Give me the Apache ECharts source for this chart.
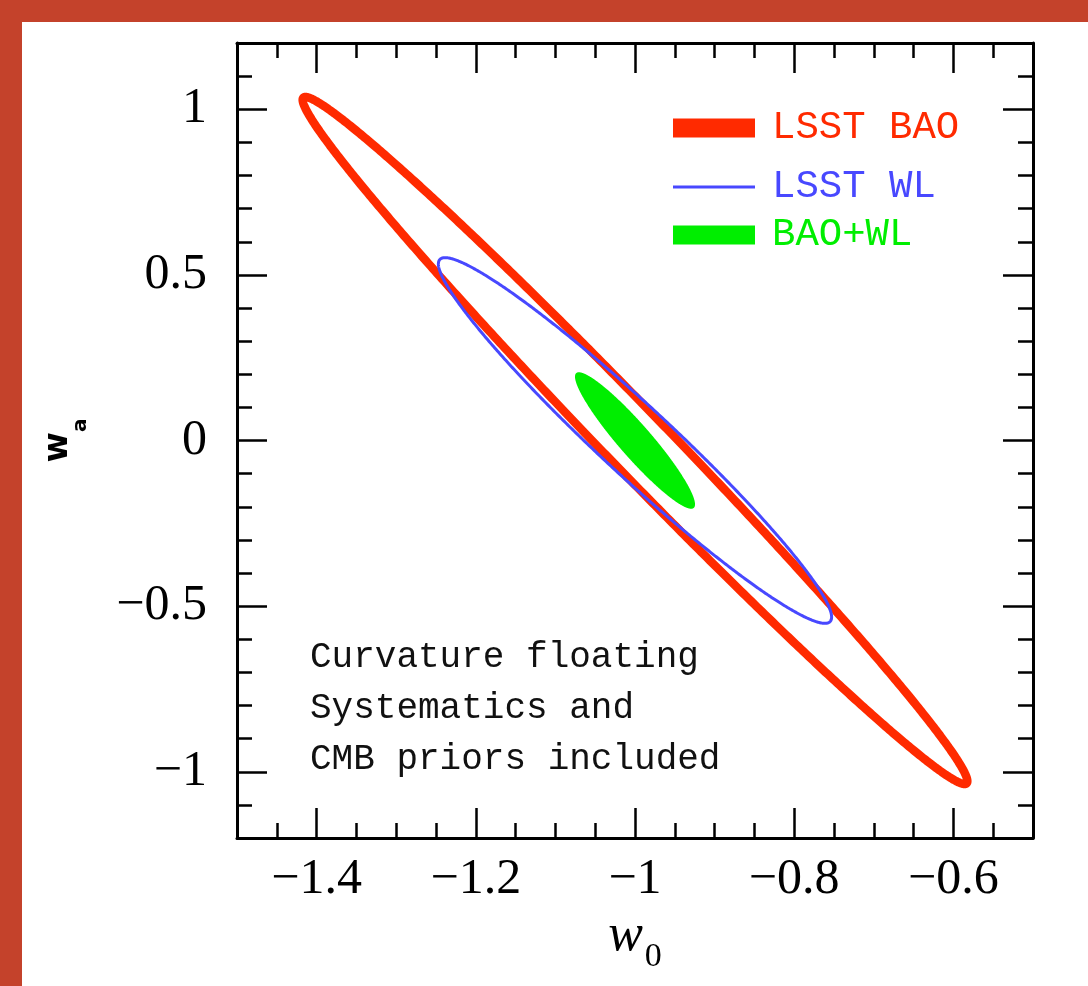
<!DOCTYPE html>
<html>
<head>
<meta charset="utf-8">
<script src="https://cdn.jsdelivr.net/npm/echarts@6/dist/echarts.min.js"></script>
<style>
  html, body { margin: 0; padding: 0; background: #c4422b; }
  #panel { position: absolute; left: 22px; top: 22px; width: 1066px; height: 964px; background: #fff; }
  #chart { position: absolute; left: 0; top: 0; width: 1088px; height: 986px; }
</style>
</head>
<body>
<div id="panel"></div>
<div id="chart"></div>
<script>
    // contours: centre, 1-sigma half extents and correlation
    let contourNames = ['LSST BAO', 'LSST WL', 'BAO+WL'];
    let centerW0 = [-1.0, -1.0, -1.0];
    let centerWa = [0.0, 0.0, 0.0];
    let sigmaW0 = [0.4175, 0.247, 0.0754];
    let sigmaWa = [1.037, 0.552, 0.206];
    let corrW0Wa = [-0.9916, -0.9655, -0.935];

    // axis ticks
    let w0Ticks = [-1.4, -1.2, -1, -0.8, -0.6];
    let waTicks = [-1, -0.5, 0, 0.5, 1];
    let noteLines = ['Curvature floating', 'Systematics and', 'CMB priors included'];

    let colors = ['#ff2a00', '#4848ff', '#00ee00'];
    let lineW = [8.5, 3, 0];
    let filled = [false, false, true];
    let legendY = [128, 187, 235];
    let legendH = [19, 3, 19];

    let black = '#000';
    let fmt = function (v) {
        return (v < 0 ? '\u2212' : '') + Math.abs(v);
    };

    function ellipse(params, api) {
        let cx = api.value(0), cy = api.value(1);
        let sx = api.value(2), sy = api.value(3), r = api.value(4);
        let q = Math.sqrt(1 - r * r);
        let pts = [];
        for (let k = 0; k < 720; k++) {
            let t = k * Math.PI / 360;
            pts.push(api.coord([cx + sx * Math.cos(t), cy + sy * (r * Math.cos(t) + q * Math.sin(t))]));
        }
        let i = params.seriesIndex;
        return {
            type: 'polygon',
            shape: {points: pts},
            style: filled[i] ? {fill: colors[i], stroke: null} :
                {fill: null, stroke: colors[i], lineWidth: lineW[i], lineJoin: 'round'}
        };
    }

    function xAxisOf(pos, major) {
        let a = {
            type: 'value', min: -1.5, max: -0.5, position: pos,
            splitLine: {show: false},
            axisLine: {show: major, onZero: false, lineStyle: {color: black, width: 3}},
            axisTick: {inside: true, length: major ? 30 : 15, lineStyle: {color: black, width: 2.5}},
            axisLabel: {show: false}
        };
        if (major) {
            a.axisTick.customValues = w0Ticks;
        } else {
            a.interval = 0.05;
        }
        return a;
    }

    function yAxisOf(pos, major) {
        let a = {
            type: 'value', min: -1.2, max: 1.2, position: pos,
            splitLine: {show: false},
            axisLine: {show: major, onZero: false, lineStyle: {color: black, width: 3}},
            axisTick: {inside: true, length: major ? 30 : 15, lineStyle: {color: black, width: 2.5}},
            axisLabel: {show: false}
        };
        if (major) {
            a.axisTick.customValues = waTicks;
        } else {
            a.interval = 0.1;
        }
        return a;
    }

    let xAxes = [xAxisOf('bottom', true), xAxisOf('bottom', false), xAxisOf('top', true), xAxisOf('top', false)];
    let yAxes = [yAxisOf('left', true), yAxisOf('left', false), yAxisOf('right', true), yAxisOf('right', false)];

    xAxes[0].axisLabel = {
        show: true, customValues: w0Ticks, formatter: fmt, margin: 17,
        color: black, fontFamily: '"Liberation Serif", serif', fontSize: 50
    };
    xAxes[0].name = '{w|w}{s|0}';
    xAxes[0].nameLocation = 'middle';
    xAxes[0].nameGap = 58;
    xAxes[0].nameTextStyle = {
        rich: {
            w: {fontFamily: '"Liberation Serif", serif', fontStyle: 'italic', fontSize: 52, color: black,
                verticalAlign: 'bottom', padding: [0, 2, 12, 0]},
            s: {fontFamily: '"Liberation Serif", serif', fontSize: 34, color: black, verticalAlign: 'bottom'}
        }
    };

    yAxes[0].axisLabel = {
        show: true, customValues: waTicks, formatter: fmt, margin: 30,
        color: black, fontFamily: '"Liberation Serif", serif', fontSize: 50
    };
    yAxes[0].name = '{w|w}{s|a}';
    yAxes[0].nameLocation = 'middle';
    yAxes[0].nameGap = 146;
    yAxes[0].nameTextStyle = {
        rich: {
            w: {fontFamily: '"DejaVu Sans", sans-serif', fontWeight: 'bold', fontSize: 33, color: black,
                verticalAlign: 'bottom', padding: [0, 0, 16, 0]},
            s: {fontFamily: '"DejaVu Sans", sans-serif', fontWeight: 'bold', fontSize: 20, color: black,
                verticalAlign: 'bottom'}
        }
    };

    let myChart = echarts.init(document.getElementById('chart'));
    let option = {
        animation: false,
        backgroundColor: 'transparent',
        grid: {left: 237, top: 43, width: 796, height: 795, containLabel: false},
        xAxis: xAxes,
        yAxis: yAxes,
        legend: contourNames.map(function (name, i) {
            return {
                selectedMode: false, padding: 0,
                left: 673, top: legendY[i] - 20,
                itemWidth: 82, itemHeight: legendH[i],
                data: [{name: name, icon: 'rect', itemStyle: {color: colors[i], borderWidth: 0}}],
                textStyle: {color: colors[i], fontFamily: '"Liberation Mono", monospace', fontSize: 39,
                    lineHeight: 40, padding: [0, 0, 0, 12]}
            };
        }),
        graphic: [{
            type: 'text', left: 310, top: 632, silent: true,
            style: {text: noteLines.join('\n'), fill: '#111', fontFamily: '"Liberation Mono", monospace',
                fontSize: 36, lineHeight: 51}
        }],
        series: contourNames.map(function (name, i) {
            return {
                type: 'custom', name: name, xAxisIndex: 0, yAxisIndex: 0, z: 2 + i, silent: true,
                itemStyle: {color: colors[i]},
                data: [[centerW0[i], centerWa[i], sigmaW0[i], sigmaWa[i], corrW0Wa[i]]],
                renderItem: ellipse
            };
        })
    };
    myChart.setOption(option);
</script>
</body>
</html>
